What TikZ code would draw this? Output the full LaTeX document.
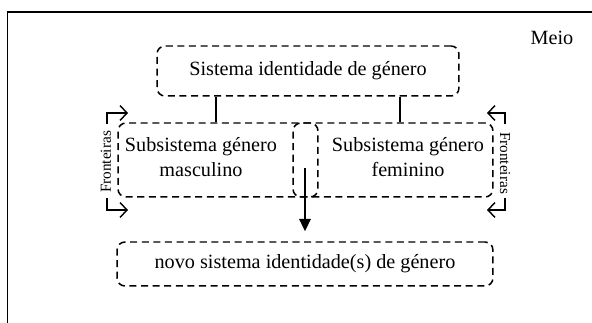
\documentclass[tikz,border=0pt]{standalone}
\usepackage{fontspec}
\setmainfont{Liberation Serif}
\usetikzlibrary{arrows.meta}

\begin{document}
\begin{tikzpicture}[x=0.02cm,y=-0.02cm,
		box/.style={draw,dash pattern=on 4pt off 2.6pt,line width=0.85pt,rounded corners=4.5pt,inner sep=0pt},
		txt/.style={font=\fontsize{11.5}{14.2}\selectfont,align=center},
		tag/.style={font=\fontsize{8.7}{10}\selectfont,inner sep=1pt},
		link/.style={line width=1.1pt},
		barb/.style={line width=0.8pt,-{Straight Barb[length=4pt,width=8.5pt]}}]
		\useasboundingbox (0,0) rectangle (592,323);
		\clip (0,0) rectangle (592,323);
		% environment frame
		\draw[line width=1.1pt] (7.5,12) rectangle (640,360);
		\node[txt] (meio) at (552,38) {Meio};
		% systems
		\node[box,txt,minimum width=6.04cm,minimum height=1cm] (top) at (308,71) {Sistema identidade de género};
		\node[box,minimum width=4cm,minimum height=1.48cm] (masc) at (218,160) {};
		\node[box,minimum width=4cm,minimum height=1.48cm] (fem) at (393,160) {};
		\node[txt] (mascTxt) at (201,157) {Subsistema género\\masculino};
		\node[txt] (femTxt) at (408,157) {Subsistema género\\feminino};
		\node[box,txt,minimum width=7.52cm,minimum height=0.88cm] (novo) at (305,264) {novo sistema identidade(s) de género};
		\coordinate (split) at (305,168);
		% links
		\draw[link] ([xshift=-0.04cm]masc.north) -- ([xshift=-0.04cm]masc.north |- top.south);
		\draw[link] ([xshift=0.14cm]fem.north) -- ([xshift=0.14cm]fem.north |- top.south);
		\draw[line width=1pt,-{Triangle[length=7pt,width=6.5pt]},shorten >=0.2cm] (split) -- (novo.north);
		% boundaries
		\node[tag,rotate=90] (frontL) at (106,162) {Fronteiras};
		\node[tag,rotate=-90] (frontR) at (505,163) {Fronteiras};
		\foreach \a/\b in {124/113,198/210}{
			\draw[barb] (107,\a) |- (128,\b);
			\draw[barb] (505,\a) |- (487,\b);
		}
\end{tikzpicture}
\end{document}
